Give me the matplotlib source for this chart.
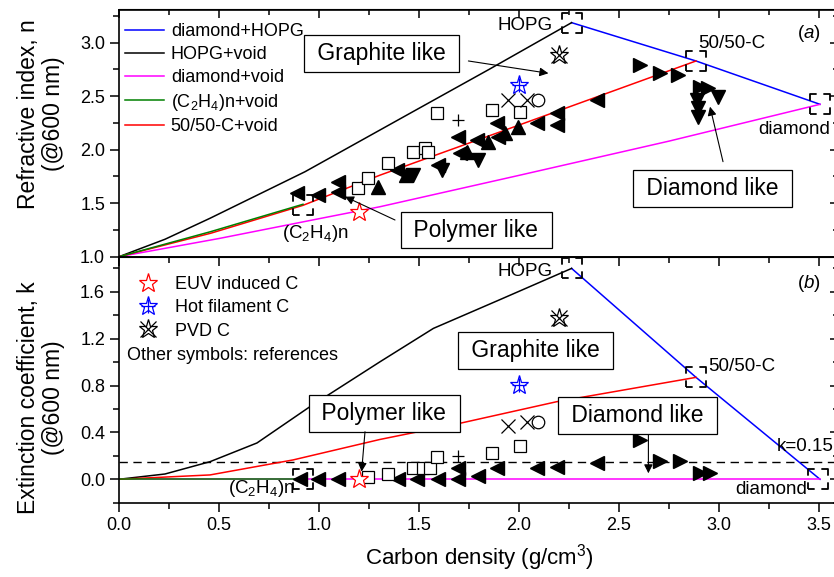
import matplotlib
matplotlib.use("Agg")
import matplotlib.pyplot as plt
from matplotlib.lines import Line2D
from matplotlib.ticker import MultipleLocator, FormatStrFormatter

plt.rcParams['font.family'] = ['Liberation Sans', 'DejaVu Sans']
plt.rcParams['mathtext.fontset'] = 'custom'
plt.rcParams['mathtext.rm'] = 'Liberation Sans'
plt.rcParams['mathtext.it'] = 'Liberation Sans:italic'
plt.rcParams['lines.scale_dashes'] = False

# ---- model curves, refractive index n (panel a) ----
x_hopg_void_n = [0, 0.23, 0.455, 0.93, 1.305, 1.455, 1.85, 2.263]
n_hopg_void = [1.0, 1.163, 1.359, 1.794, 2.184, 2.34, 2.75, 3.187]
x_dia_hopg_n = [2.263, 2.885, 3.505]
n_dia_hopg = [3.187, 2.829, 2.424]
x_dia_void_n = [0, 0.5, 1.0, 1.305, 2.0, 2.75, 3.505]
n_dia_void = [1.0, 1.17, 1.355, 1.467, 1.76, 2.08, 2.424]
x_c2h4_void_n = [0, 0.46, 0.92]
n_c2h4_void = [1.0, 1.235, 1.49]
x_5050_void_n = [0, 0.46, 0.92, 1.305, 2.0, 2.885]
n_5050_void = [1.0, 1.22, 1.48, 1.762, 2.23, 2.829]

# ---- model curves, extinction k (panel b) ----
x_hopg_void_k = [0, 0.23, 0.455, 0.69, 0.955, 1.305, 1.572, 1.9, 2.263]
k_hopg_void = [0, 0.045, 0.15, 0.31, 0.62, 1.003, 1.288, 1.53, 1.80]
x_dia_hopg_k = [2.263, 2.885, 3.505]
k_dia_hopg = [1.80, 0.87, 0.0]
x_dia_void_k = [0, 3.505]
k_dia_void = [0, 0]
x_c2h4_void_k = [0, 0.92]
k_c2h4_void = [0, 0]
x_5050_void_k = [0, 0.455, 0.87, 1.305, 1.705, 2.188, 2.885]
k_5050_void = [0, 0.037, 0.165, 0.34, 0.478, 0.662, 0.87]
k_limit = 0.15

# reference points (HOPG, 50/50-C, diamond, (C2H4)n)
ref_x_n = [2.263, 2.885, 3.505, 0.92]
ref_n = [3.187, 2.829, 2.424, 1.483]
ref_x_k = [2.263, 2.885, 3.495, 0.92]
ref_k = [1.80, 0.87, 0.0, 0.0]

# ---- literature points, panel a ----
a_left_x = [0.888, 0.997, 1.097, 1.097, 1.388, 1.597, 1.697, 1.705, 1.788, 1.897, 1.888, 2.088, 2.188, 2.188, 2.388]
a_left_n = [1.592, 1.577, 1.70, 1.607, 1.81, 1.857, 2.121, 1.966, 2.09, 2.121, 2.247, 2.247, 2.34, 2.231, 2.464]
a_up_x = [1.297, 1.437, 1.738, 1.847, 1.93, 1.997]
a_up_n = [1.654, 1.763, 1.98, 2.075, 2.153, 2.215]
a_down_x = [1.472, 1.613, 1.797, 2.888, 2.897, 2.897, 2.997]
a_down_n = [1.76, 1.81, 1.904, 2.464, 2.387, 2.308, 2.495]
a_right_x = [2.605, 2.705, 2.797, 2.905, 2.947]
a_right_n = [2.791, 2.714, 2.698, 2.589, 2.574]
a_sq_x = [1.197, 1.247, 1.347, 1.472, 1.53, 1.547, 1.588, 1.863, 2.005]
a_sq_n = [1.639, 1.733, 1.873, 1.981, 2.013, 1.98, 2.34, 2.371, 2.355]
a_plus_x, a_plus_n = [1.697], [2.277]
a_cross_x, a_cross_n = [1.947, 2.038], [2.464, 2.464]
a_circ_x, a_circ_n = [2.097], [2.464]

# ---- panel b ----
b_left_x = [0.905, 0.997, 1.097, 1.397, 1.488, 1.597, 1.697, 1.697, 1.797, 1.888, 2.088, 2.188, 2.388]
b_left_k = [0, 0, 0, 0, 0, 0.005, 0.094, 0.0, 0.03, 0.094, 0.094, 0.108, 0.137]
b_right_x = [2.605, 2.705, 2.805, 2.905, 2.955]
b_right_k = [0.335, 0.159, 0.159, 0.056, 0.056]
b_sq_x = [1.247, 1.347, 1.472, 1.522, 1.555, 1.588, 1.863, 2.005]
b_sq_k = [0.022, 0.045, 0.094, 0.094, 0.094, 0.188, 0.227, 0.284]
b_plus_x, b_plus_k = [1.697], [0.2]
b_cross_x, b_cross_k = [1.947, 2.038], [0.455, 0.492]
b_circ_x, b_circ_k = [2.097], [0.492]

# own samples: EUV induced, hot filament, PVD
euv_x, euv_n, euv_k = [1.2], [1.42], [0.0]
hot_x, hot_n, hot_k = [2.0], [2.6], [0.805]
pvd_x, pvd_n, pvd_k = [2.2], [2.885], [1.374]

BLUE, MAG, GREEN, RED = '#0000ff', '#ff00ff', '#008000', '#ff0000'
fig = plt.figure(figsize=(8.34, 5.77), dpi=100)
W, H = 834, 577
axA = fig.add_axes([119 / W, (H - 256.7) / H, 720 / W, 247.2 / H])
axB = fig.add_axes([119 / W, (H - 502.7) / H, 720 / W, 246 / H])


def bracket(ax, x, y):
    L = 14.4
    ax.scatter(x, y, marker='s', s=L * L, facecolors='none', edgecolors='k',
               linewidths=1.3, linestyles=[(L / 3, (2 * L / 3, L / 3))], zorder=5)


def points(ax, data):
    kw = dict(ls='none', zorder=4)
    ax.plot(data[0][0], data[0][1], marker='<', ms=10, color='k', mec='k', **kw)
    ax.plot(data[1][0], data[1][1], marker='>', ms=10, color='k', mec='k', **kw)
    ax.plot(data[2][0], data[2][1], marker='s', ms=8, mfc='white', mec='k', mew=0.9, **kw)
    ax.plot(data[3][0], data[3][1], marker='+', ms=9, color='k', mew=0.9, **kw)
    ax.plot(data[4][0], data[4][1], marker='x', ms=10, color='k', mew=0.9, **kw)
    ax.plot(data[5][0], data[5][1], marker='o', ms=9, mfc='none', mec='k', mew=0.9, **kw)


def own(ax, ys):
    kw = dict(ls='none', zorder=6)
    ax.plot(euv_x, ys[0], marker='*', ms=14, mfc='white', mec=RED, mew=0.9, **kw)
    ax.plot(hot_x, ys[1], marker='*', ms=14, mfc='none', mec=BLUE, mew=0.9, **kw)
    ax.plot(hot_x, ys[1], marker='+', ms=10, color=BLUE, mew=0.9, **kw)
    ax.plot(pvd_x, ys[2], marker='*', ms=14, mfc='none', mec='k', mew=0.9, **kw)
    ax.plot(pvd_x, ys[2], marker='x', ms=11, color='k', mew=0.9, **kw)


# panel a
axA.plot(x_dia_hopg_n, n_dia_hopg, color=BLUE, lw=1.1, label='diamond+HOPG')
axA.plot(x_hopg_void_n, n_hopg_void, color='k', lw=1.1, label='HOPG+void')
axA.plot(x_dia_void_n, n_dia_void, color=MAG, lw=1.1, label='diamond+void')
axA.plot(x_5050_void_n, n_5050_void, color=RED, lw=1.1, label='50/50-C+void')
axA.plot(x_c2h4_void_n, n_c2h4_void, color=GREEN, lw=1.1,
         label=r'(C$\mathregular{_2}$H$\mathregular{_4}$)n+void')
bracket(axA, ref_x_n, ref_n)
points(axA, [(a_left_x, a_left_n), (a_right_x, a_right_n), (a_sq_x, a_sq_n),
             (a_plus_x, a_plus_n), (a_cross_x, a_cross_n), (a_circ_x, a_circ_n)])
axA.plot(a_up_x, a_up_n, marker='^', ms=10, color='k', ls='none', zorder=4)
axA.plot(a_down_x, a_down_n, marker='v', ms=10, color='k', ls='none', zorder=4)
own(axA, [euv_n, hot_n, pvd_n])

h, l = axA.get_legend_handles_labels()
order = [0, 1, 2, 4, 3]
axA.legend([h[i] for i in order], [l[i] for i in order], loc='upper left',
           bbox_to_anchor=(0.008, 0.944), frameon=False, fontsize=13,
           handlelength=2.2, handletextpad=0.35, labelspacing=0.32,
           borderpad=0, borderaxespad=0)

# panel b
axB.plot(x_dia_hopg_k, k_dia_hopg, color=BLUE, lw=1.1)
axB.plot(x_hopg_void_k, k_hopg_void, color='k', lw=1.1)
axB.plot(x_dia_void_k, k_dia_void, color=MAG, lw=1.1)
axB.plot(x_5050_void_k, k_5050_void, color=RED, lw=1.1)
axB.plot(x_c2h4_void_k, k_c2h4_void, color=GREEN, lw=1.1)
axB.axhline(k_limit, color='k', lw=1.0, dashes=(6, 4), zorder=1)
bracket(axB, ref_x_k, ref_k)
points(axB, [(b_left_x, b_left_k), (b_right_x, b_right_k), (b_sq_x, b_sq_k),
             (b_plus_x, b_plus_k), (b_cross_x, b_cross_k), (b_circ_x, b_circ_k)])
own(axB, [euv_k, hot_k, pvd_k])

hb = [Line2D([], [], marker='*', ms=14, mfc='white', mec=RED, mew=0.9, ls='none'),
      (Line2D([], [], marker='*', ms=14, mfc='none', mec=BLUE, mew=0.9, ls='none'),
       Line2D([], [], marker='+', ms=10, color=BLUE, mew=0.9, ls='none')),
      (Line2D([], [], marker='*', ms=14, mfc='none', mec='k', mew=0.9, ls='none'),
       Line2D([], [], marker='x', ms=11, color='k', mew=0.9, ls='none'))]
axB.legend(hb, ['EUV induced C', 'Hot filament C', 'PVD C'], loc='upper left',
           bbox_to_anchor=(0.0215, 0.922), frameon=False, fontsize=13,
           handlelength=1.5, handletextpad=0.75, labelspacing=0.35,
           borderpad=0, borderaxespad=0)
axB.text(0.011, 0.60, 'Other symbols: references', transform=axB.transAxes,
         fontsize=13, va='center', ha='left')

# labels on curves
c2h4 = r'(C$\mathregular{_2}$H$\mathregular{_4}$)n'
axA.text(2.168, 3.165, 'HOPG', fontsize=13.5, ha='right', va='center')
axA.text(2.895, 2.994, '50/50-C', fontsize=13.5, ha='left', va='center')
axA.text(3.195, 2.184, 'diamond', fontsize=13.5, ha='left', va='center')
axA.text(0.8135, 1.22, c2h4, fontsize=13.5, ha='left', va='center')
axA.text(3.39, 3.09, r'($\mathit{a}$)', fontsize=13.5, ha='left', va='center')
axB.text(2.168, 1.771, 'HOPG', fontsize=13.5, ha='right', va='center')
axB.text(2.945, 0.961, '50/50-C', fontsize=13.5, ha='left', va='center')
axB.text(3.29, 0.278, 'k=0.15', fontsize=13.5, ha='left', va='center')
axB.text(3.44, -0.091, 'diamond', fontsize=13.5, ha='right', va='center')
axB.text(0.547, -0.075, c2h4, fontsize=13.5, ha='left', va='center')
axB.text(3.39, 1.675, r'($\mathit{b}$)', fontsize=13.5, ha='left', va='center')

# boxed region labels with arrows
box = dict(boxstyle='square,pad=0.3', fc='white', ec='black', lw=0.9)
arr = dict(arrowstyle='-|>', color='k', lw=0.8, mutation_scale=13, shrinkA=0, shrinkB=0)
for ax, txt, xy in [(axA, ' Graphite like ', (1.312, 2.901)),
                    (axA, ' Polymer like ', (1.785, 1.2495)),
                    (axA, ' Diamond like ', (2.9675, 1.639)),
                    (axB, ' Graphite like ', (2.082, 1.099)),
                    (axB, ' Polymer like ', (1.325, 0.563)),
                    (axB, ' Diamond like ', (2.5925, 0.542))]:
    ax.text(xy[0], xy[1], txt, fontsize=16.5, ha='center', va='center', bbox=box, zorder=7)
for ax, start, end in [(axA, (1.747, 2.829), (2.147, 2.714)),
                       (axA, (1.38, 1.343), (1.13, 1.561)),
                       (axA, (3.02, 1.888), (2.955, 2.402)),
                       (axB, (1.23, 0.406), (1.213, 0.065)),
                       (axB, (2.647, 0.378), (2.647, 0.051))]:
    ax.annotate('', xy=end, xytext=start, arrowprops=arr, zorder=8)

# axes styling
for ax, ylim, major, minor in [(axA, (1.0, 3.31), 0.5, 0.25), (axB, (-0.2, 1.9), 0.4, 0.2)]:
    ax.set_xlim(0, 3.6)
    ax.set_ylim(*ylim)
    ax.xaxis.set_major_locator(MultipleLocator(0.5))
    ax.xaxis.set_minor_locator(MultipleLocator(0.25))
    ax.yaxis.set_major_locator(MultipleLocator(major))
    ax.yaxis.set_minor_locator(MultipleLocator(minor))
    ax.yaxis.set_major_formatter(FormatStrFormatter('%.1f'))
    ax.xaxis.set_major_formatter(FormatStrFormatter('%.1f'))
    ax.tick_params(which='both', direction='out', width=1.1, labelsize=13, top=False, right=False)
    ax.tick_params(which='major', length=6.5)
    ax.tick_params(which='minor', length=4)
    for s in ax.spines.values():
        s.set_linewidth(1.2)
    sx = ax.secondary_xaxis('top')
    sx.xaxis.set_major_locator(MultipleLocator(0.5))
    sx.xaxis.set_minor_locator(MultipleLocator(0.25))
    sx.tick_params(which='both', direction='in', labeltop=False, width=1.1)
    sx.tick_params(which='major', length=6.5)
    sx.tick_params(which='minor', length=4)
    sy = ax.secondary_yaxis('right')
    sy.yaxis.set_major_locator(MultipleLocator(major))
    sy.yaxis.set_minor_locator(MultipleLocator(minor))
    sy.tick_params(which='both', direction='in', labelright=False, width=1.1)
    sy.tick_params(which='major', length=6.5)
    sy.tick_params(which='minor', length=4)

axA.tick_params(labelbottom=False)

axA.set_ylabel('Refractive index, n\n(@600 nm)', fontsize=16.5, linespacing=1.1)
axB.set_ylabel('Extinction coefficient, k\n(@600 nm)', fontsize=16.5, linespacing=1.1)
axA.yaxis.set_label_coords(-0.075, 0.577)
axB.yaxis.set_label_coords(-0.075, 0.4256)
axB.set_xlabel(r'Carbon density (g/cm$^\mathregular{3}$)', fontsize=16, labelpad=6)

fig.savefig('out.png', dpi=100)
